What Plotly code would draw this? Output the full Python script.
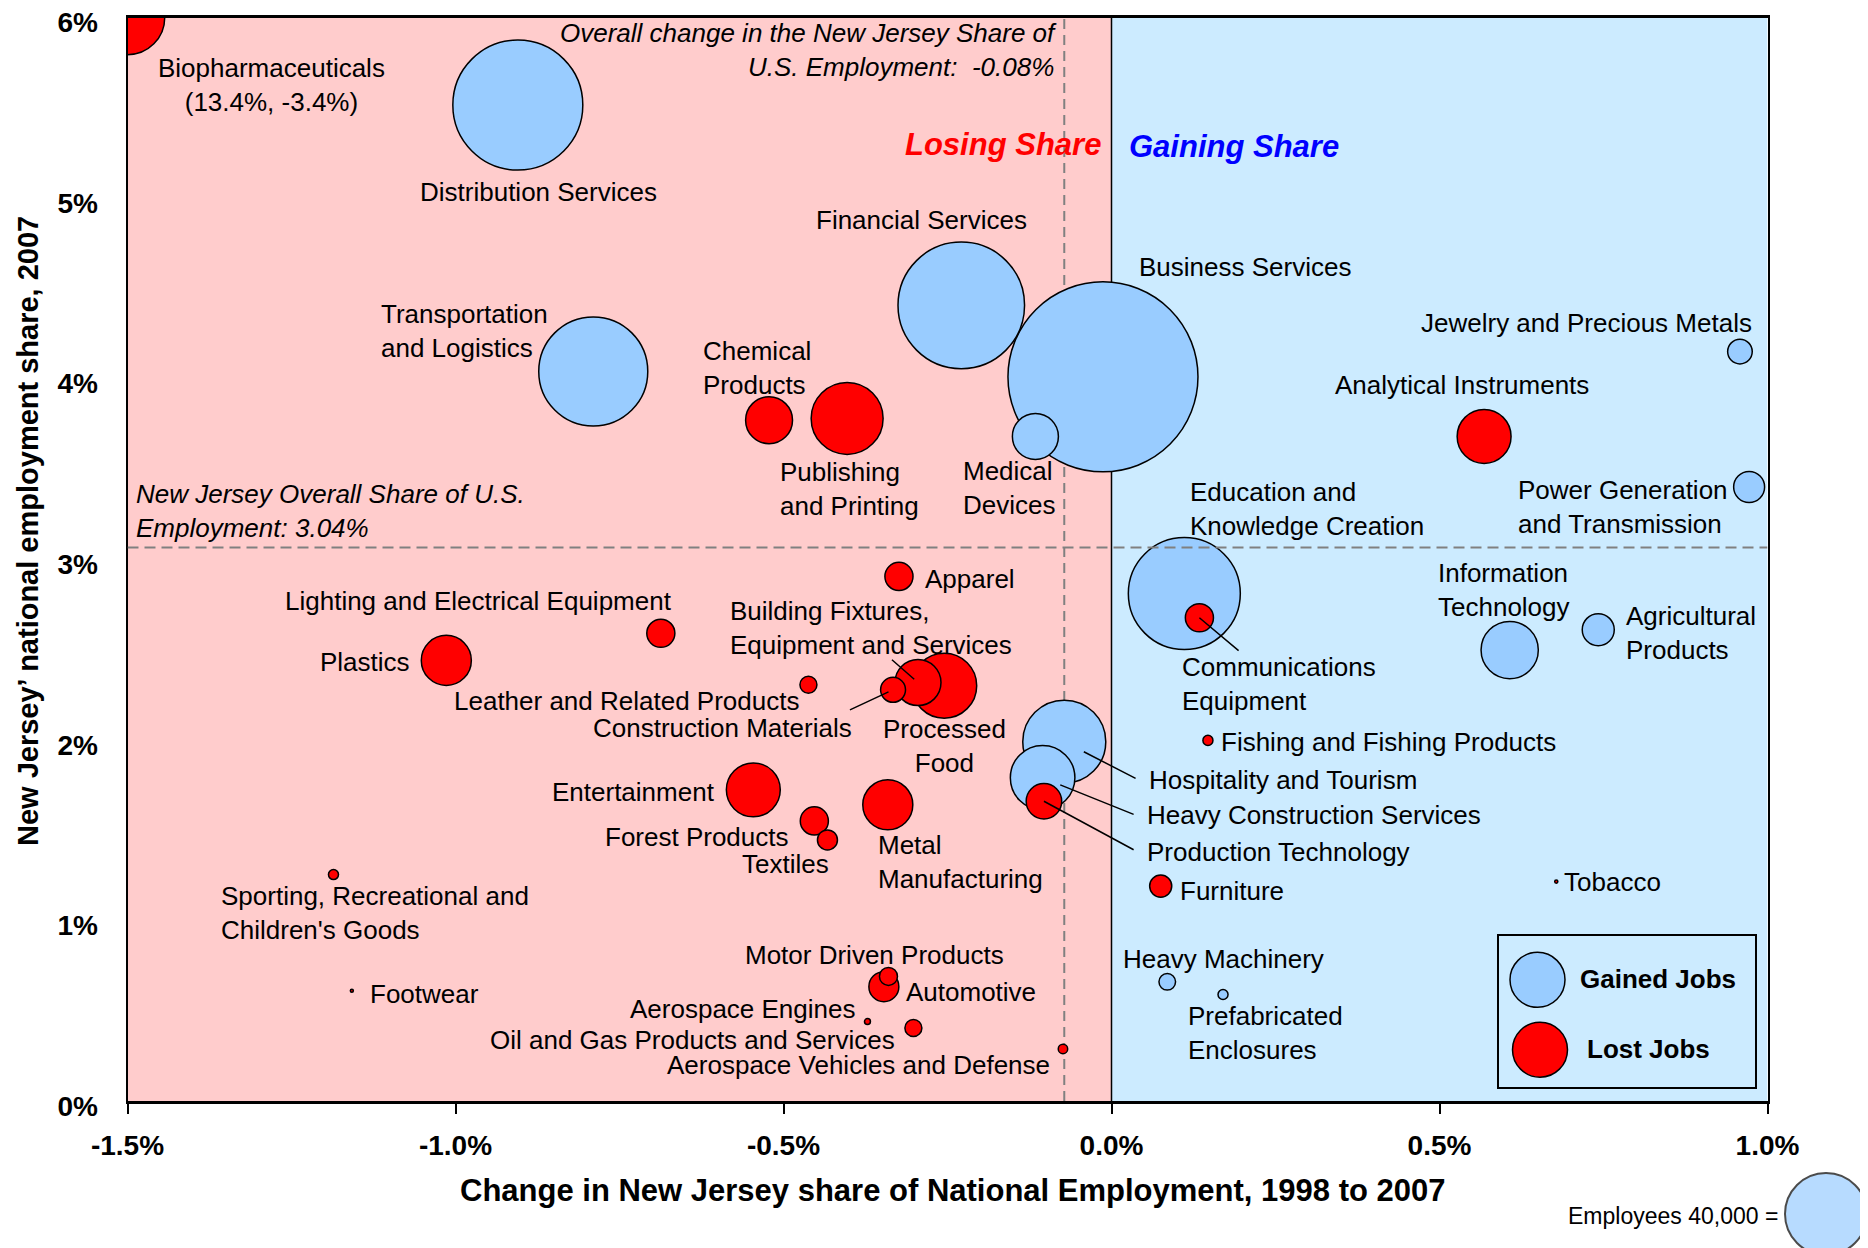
import plotly.graph_objects as go

OFF = 8  # the page body margin puts the figure 8px in from the window corner
W, H = 1868 - OFF, 1248 - OFF
FONT = "Liberation Sans, Arial, sans-serif"

# ---- data: New Jersey industry clusters ----
names = [
    "Biopharmaceuticals", "Distribution Services", "Transportation and Logistics",
    "Financial Services", "Business Services", "Medical Devices", "Chemical Products",
    "Publishing and Printing", "Education and Knowledge Creation", "Communications Equipment",
    "Jewelry and Precious Metals", "Analytical Instruments", "Power Generation and Transmission",
    "Information Technology", "Agricultural Products", "Fishing and Fishing Products",
    "Hospitality and Tourism", "Heavy Construction Services", "Production Technology",
    "Furniture", "Tobacco", "Heavy Machinery", "Prefabricated Enclosures",
    "Aerospace Vehicles and Defense", "Oil and Gas Products and Services", "Aerospace Engines",
    "Automotive", "Motor Driven Products", "Footwear",
    "Sporting, Recreational and Children's Goods", "Plastics", "Lighting and Electrical Equipment",
    "Apparel", "Leather and Related Products", "Processed Food",
    "Building Fixtures, Equipment and Services", "Construction Materials", "Entertainment",
    "Forest Products", "Textiles", "Metal Manufacturing",
]
# change in NJ share of national employment 1998-2007 (%)
share_change = [
    -3.4, -0.905, -0.790, -0.229, -0.013, -0.116, -0.522, -0.403, 0.111, 0.134,
    0.958, 0.568, 0.972, 0.607, 0.742, 0.147, -0.072, -0.105, -0.103, 0.075,
    0.678, 0.085, 0.170, -0.074, -0.302, -0.372, -0.347, -0.340, -1.158, -1.186,
    -1.014, -0.687, -0.324, -0.462, -0.255, -0.295, -0.333, -0.546, -0.453, -0.433,
    -0.341,
]
# NJ share of national employment, 2007 (%)
share_2007 = [
    13.4, 5.515, 4.04, 4.406, 4.01, 3.68, 3.77, 3.78, 2.81, 2.676,
    4.15, 3.68, 3.40, 2.497, 2.61, 1.997, 1.99, 1.79, 1.66, 1.19,
    1.215, 0.66, 0.59, 0.288, 0.404, 0.44, 0.633, 0.69, 0.61, 1.254,
    2.44, 2.59, 2.905, 2.305, 2.30, 2.317, 2.277, 1.723, 1.551, 1.446,
    1.64,
]
employees = [
    33000, 100500, 70700, 95300, 214800, 12600, 13100, 30800, 74600, 4700,
    3600, 17300, 5700, 19500, 6100, 600, 41000, 24800, 7500, 2900,
    60, 1640, 600, 530, 1720, 210, 5350, 1930, 55, 600,
    14900, 4700, 4700, 1720, 25100, 12600, 3700, 17300, 4700, 2380,
    14900,
]
gained = [
    False, True, True, True, True, True, False, False, True, False,
    True, False, True, True, True, False, True, True, False, False,
    False, True, True, False, False, False, False, False, False, False,
    False, False, False, False, False, False, False, False, False, False,
    False,
]

x_ticks = [-1.5, -1.0, -0.5, 0.0, 0.5, 1.0]
x_tick_text = ["-1.5%", "-1.0%", "-0.5%", "0.0%", "0.5%", "1.0%"]
y_ticks = [0, 1, 2, 3, 4, 5, 6]
y_tick_text = ["0%", "1%", "2%", "3%", "4%", "5%", "6%"]
X_RANGE = [-1.5, 1.0]
Y_RANGE = [0, 6]

nj_share_line = 3.065     # NJ overall share of US employment (labelled 3.04%)
nj_change_line = -0.072   # overall change in NJ share (labelled -0.08%)
key_employees = 40000

# label layout: text, x, y, anchor
labels = [
    ("Biopharmaceuticals<br>(13.4%, -3.4%)", -1.281, 5.629, "center"),
    ("Distribution Services", -0.874, 5.036, "center"),
    ("Transportation<br>and Logistics", -1.117, 4.266, "left"),
    ("Financial Services", -0.289, 4.881, "center"),
    ("Business Services", 0.039, 4.618, "left"),
    ("Jewelry and Precious Metals", 0.980, 4.306, "right"),
    ("Analytical Instruments", 0.535, 3.967, "center"),
    ("Chemical<br>Products", -0.626, 4.061, "left"),
    ("Publishing<br>and Printing", -0.509, 3.387, "left"),
    ("Medical<br>Devices", -0.230, 3.397, "left"),
    ("Education and<br>Knowledge Creation", 0.117, 3.278, "left"),
    ("Power Generation<br>and Transmission", 0.616, 3.291, "left"),
    ("Apparel", -0.288, 2.892, "left"),
    ("Lighting and Electrical Equipment", -0.9655, 2.770, "center"),
    ("Building Fixtures,<br>Equipment and Services", -0.584, 2.618, "left"),
    ("Information<br>Technology", 0.495, 2.829, "left"),
    ("Agricultural<br>Products", 0.782, 2.592, "left"),
    ("Plastics", -1.066, 2.432, "right"),
    ("Communications<br>Equipment", 0.1044, 2.308, "left"),
    ("Leather and Related Products", -0.4734, 2.216, "right"),
    ("Construction Materials", -0.392, 2.066, "right"),
    ("Processed<br>Food", -0.255, 1.965, "center"),
    ("Fishing and Fishing Products", 0.164, 1.989, "left"),
    ("Hospitality and Tourism", 0.0544, 1.777, "left"),
    ("Entertainment", -0.601, 1.711, "right"),
    ("Heavy Construction Services", 0.0506, 1.585, "left"),
    ("Forest Products", -0.488, 1.460, "right"),
    ("Production Technology", 0.0506, 1.381, "left"),
    ("Textiles", -0.427, 1.315, "right"),
    ("Metal<br>Manufacturing", -0.359, 1.321, "left"),
    ("Furniture", 0.102, 1.163, "left"),
    ("Tobacco", 0.687, 1.215, "left"),
    ("Sporting, Recreational and<br>Children's Goods", -1.361, 1.041, "left"),
    ("Motor Driven Products", -0.362, 0.807, "center"),
    ("Heavy Machinery", 0.0148, 0.787, "left"),
    ("Automotive", -0.316, 0.602, "left"),
    ("Footwear", -1.134, 0.595, "left"),
    ("Prefabricated<br>Enclosures", 0.114, 0.374, "left"),
    ("Aerospace Engines", -0.388, 0.510, "right"),
    ("Oil and Gas Products and Services", -0.327, 0.338, "right"),
    ("Aerospace Vehicles and Defense", -0.0904, 0.199, "right"),
]
# leader lines: cluster, label end x, y, standoff px
leaders = [
    ("Communications Equipment", 0.196, 2.487, 0),
    ("Building Fixtures, Equipment and Services", -0.337, 2.451, 5),
    ("Construction Materials", -0.401, 2.162, 5),
    ("Hospitality and Tourism", 0.039, 1.782, 22),
    ("Heavy Construction Services", 0.036, 1.584, 19),
    ("Production Technology", 0.036, 1.387, 0),
]


def pxl(v):
    # window pixel -> figure pixel
    return v - OFF


# off-scale values are pinned to the edge of the plot (as Biopharmaceuticals)
px = [min(max(v, X_RANGE[0]), X_RANGE[1]) for v in share_change]
py = [min(max(v, Y_RANGE[0]), Y_RANGE[1]) for v in share_2007]

sizeref = 2.0 * key_employees / 82 ** 2

fig = go.Figure()
for flag, color, nm in [(True, "#99CCFF", "Gained Jobs"), (False, "#FF0000", "Lost Jobs")]:
    idx = sorted([i for i in range(len(names)) if gained[i] == flag], key=lambda i: -employees[i])
    fig.add_trace(go.Scatter(
        x=[px[i] for i in idx], y=[py[i] for i in idx],
        text=[names[i] for i in idx], name=nm, mode="markers",
        marker=dict(size=[employees[i] for i in idx], sizemode="area", sizeref=sizeref,
                    color=color, line=dict(color="black", width=1.5), opacity=1),
        hovertemplate="%{text}<extra></extra>", cliponaxis=True,
    ))

# legend glyphs and size key (pixel axes over whole figure)
fig.add_trace(go.Scatter(
    x=[pxl(1537.5), pxl(1540)], y=[pxl(979.8), pxl(1049.7)], mode="markers",
    xaxis="x2", yaxis="y2",
    marker=dict(size=55, color=["#99CCFF", "#FF0000"], line=dict(color="black", width=1.5)),
    hoverinfo="skip",
))
fig.add_trace(go.Scatter(
    x=[pxl(1826)], y=[pxl(1214)], mode="markers", xaxis="x2", yaxis="y2",
    marker=dict(size=[key_employees], sizemode="area", sizeref=sizeref, color="#99CCFF",
                line=dict(color="black", width=2)),
    hoverinfo="skip", cliponaxis=False,
))

shapes = [
    dict(type="rect", xref="x", yref="y", x0=X_RANGE[0], x1=0, y0=Y_RANGE[0], y1=Y_RANGE[1],
         fillcolor="#FFCCCC", line=dict(width=0), layer="below"),
    dict(type="rect", xref="x", yref="y", x0=0, x1=X_RANGE[1], y0=Y_RANGE[0], y1=Y_RANGE[1],
         fillcolor="#CCEBFF", line=dict(width=0), layer="below"),
    dict(type="line", xref="x", yref="y", x0=0, x1=0, y0=Y_RANGE[0], y1=Y_RANGE[1],
         line=dict(color="black", width=1.5), layer="below"),
    dict(type="line", xref="x", yref="y", x0=nj_change_line, x1=nj_change_line,
         y0=Y_RANGE[0], y1=Y_RANGE[1],
         line=dict(color="#808080", width=2, dash="10px,6px"), layer="below"),
    dict(type="line", xref="x", yref="y", x0=X_RANGE[0], x1=X_RANGE[1],
         y0=nj_share_line, y1=nj_share_line,
         line=dict(color="#808080", width=2, dash="11px,6px"), layer="above"),
    dict(type="rect", xref="x2", yref="y2", x0=pxl(1498), x1=pxl(1756), y0=pxl(935),
         y1=pxl(1088), fillcolor="#CCEBFF", line=dict(color="black", width=2), layer="below"),
]

annotations = []
for text, lx, ly, anchor in labels:
    annotations.append(dict(x=lx, y=ly, xref="x", yref="y", text=text, showarrow=False,
                            xanchor=anchor, align=anchor, yanchor="middle",
                            font=dict(family=FONT, size=26, color="black")))
for nm, tx, ty, so in leaders:
    i = names.index(nm)
    annotations.append(dict(x=px[i], y=py[i], ax=tx, ay=ty, xref="x", yref="y",
                            axref="x", ayref="y", text="", showarrow=True, arrowhead=0,
                            arrowwidth=1.5, arrowcolor="black", standoff=so))

annotations += [
    dict(x=-0.080, y=5.82, xref="x", yref="y", xanchor="right", align="right", showarrow=False,
         text="<i>Overall change in the New Jersey Share of<br>U.S. Employment:\u00a0 -0.08%</i>",
         font=dict(family=FONT, size=26, color="black")),
    dict(x=-1.490, y=3.269, xref="x", yref="y", xanchor="left", align="left", showarrow=False,
         text="<i>New Jersey Overall Share of U.S.<br>Employment: 3.04%</i>",
         font=dict(family=FONT, size=26, color="black")),
    dict(x=-0.013, y=5.296, xref="x", yref="y", xanchor="right", showarrow=False,
         text="<b><i>Losing Share</i></b>", font=dict(family=FONT, size=31, color="#FF0000")),
    dict(x=0.024, y=5.285, xref="x", yref="y", xanchor="left", showarrow=False,
         text="<b><i>Gaining Share</i></b>", font=dict(family=FONT, size=31, color="#0000FF")),
    dict(x=pxl(952), y=pxl(1190), xref="x2", yref="y2", showarrow=False,
         text="<b>Change in New Jersey share of National Employment, 1998 to 2007</b>",
         font=dict(family=FONT, size=31, color="black")),
    dict(x=pxl(28), y=pxl(531), xref="x2", yref="y2", showarrow=False, textangle=-90,
         text="<b>New Jersey\u2019 national employment share, 2007</b>",
         font=dict(family=FONT, size=29, color="black")),
    dict(x=pxl(1578), y=pxl(979), xref="x2", yref="y2", xanchor="left", showarrow=False,
         text="<b>Gained Jobs</b>", font=dict(family=FONT, size=26, color="black")),
    dict(x=pxl(1585), y=pxl(1049), xref="x2", yref="y2", xanchor="left", showarrow=False,
         text="<b>Lost Jobs</b>", font=dict(family=FONT, size=26, color="black")),
    dict(x=pxl(1780), y=pxl(1216), xref="x2", yref="y2", xanchor="right", showarrow=False,
         text="Employees 40,000 =", font=dict(family=FONT, size=23, color="black")),
]

fig.update_layout(
    width=W, height=H,
    margin=dict(l=0, r=0, t=0, b=0),
    paper_bgcolor="white", plot_bgcolor="rgba(0,0,0,0)",
    showlegend=False,
    font=dict(family=FONT, color="black"),
    xaxis=dict(domain=[pxl(127.5) / W, pxl(1767.5) / W], range=X_RANGE, tickvals=x_ticks,
               ticktext=x_tick_text, ticks="outside", ticklen=10, tickwidth=2,
               tickcolor="black", showline=True, linewidth=2.5, linecolor="black",
               mirror=True, showgrid=False, zeroline=False, ticklabelstandoff=8,
               ticklabeloverflow="allow",
               tickfont=dict(family=FONT, size=28, color="black", weight="bold"),
               anchor="y", automargin=False),
    yaxis=dict(domain=[1 - pxl(1101) / H, 1 - pxl(17.5) / H], range=Y_RANGE, tickvals=y_ticks,
               ticktext=y_tick_text, ticks="", showline=True, linewidth=2,
               linecolor="black", mirror=True, showgrid=False, zeroline=False,
               ticklabelstandoff=22, ticklabelshift=5, ticklabeloverflow="allow",
               tickfont=dict(family=FONT, size=28, color="black", weight="bold"),
               anchor="x", automargin=False),
    xaxis2=dict(domain=[0, 1], range=[0, W], visible=False, anchor="y2", fixedrange=True),
    yaxis2=dict(domain=[0, 1], range=[H, 0], visible=False, anchor="x2", fixedrange=True),
    shapes=shapes,
    annotations=annotations,
)

fig.write_html("out.html")
